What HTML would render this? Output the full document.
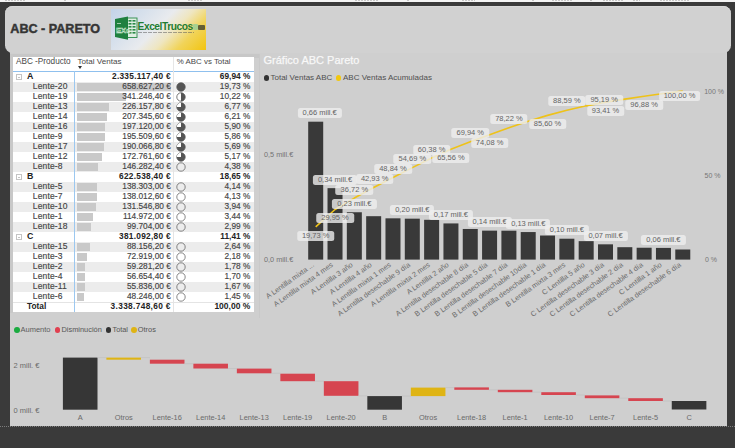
<!DOCTYPE html>
<html><head><meta charset="utf-8"><style>
*{margin:0;padding:0;box-sizing:border-box}
html,body{width:735px;height:448px;overflow:hidden;background:#3a3a3a;font-family:"Liberation Sans", sans-serif}
.a{position:absolute;white-space:nowrap}
.t{-webkit-text-stroke:0.15px currentColor}
</style></head><body>

<div class="a" style="left:0;top:0;width:735px;height:1.8px;background:#f4f4f4"></div>
<div class="a" style="left:5px;top:0;width:20px;height:1.3px;background:repeating-linear-gradient(90deg,#c6c6c6 0 2px,transparent 2px 3px)"></div>
<div class="a" style="left:64px;top:0;width:2px;height:1.3px;background:repeating-linear-gradient(90deg,#c6c6c6 0 2px,transparent 2px 3px)"></div>
<div class="a" style="left:188px;top:0;width:15px;height:1.3px;background:repeating-linear-gradient(90deg,#c6c6c6 0 2px,transparent 2px 3px)"></div>
<div class="a" style="left:355px;top:0;width:23px;height:1.3px;background:repeating-linear-gradient(90deg,#c6c6c6 0 2px,transparent 2px 3px)"></div>
<div class="a" style="left:407px;top:0;width:2px;height:1.3px;background:repeating-linear-gradient(90deg,#c6c6c6 0 2px,transparent 2px 3px)"></div>
<div class="a" style="left:462px;top:0;width:13px;height:1.3px;background:repeating-linear-gradient(90deg,#c6c6c6 0 2px,transparent 2px 3px)"></div>
<div class="a" style="left:532px;top:0;width:2px;height:1.3px;background:repeating-linear-gradient(90deg,#c6c6c6 0 2px,transparent 2px 3px)"></div>
<div class="a" style="left:552px;top:0;width:21px;height:1.3px;background:repeating-linear-gradient(90deg,#c6c6c6 0 2px,transparent 2px 3px)"></div>
<div class="a" style="left:590px;top:0;width:3px;height:1.3px;background:repeating-linear-gradient(90deg,#c6c6c6 0 2px,transparent 2px 3px)"></div>
<div class="a" style="left:603px;top:0;width:20px;height:1.3px;background:repeating-linear-gradient(90deg,#c6c6c6 0 2px,transparent 2px 3px)"></div>
<div class="a" style="left:633px;top:0;width:7px;height:1.3px;background:repeating-linear-gradient(90deg,#c6c6c6 0 2px,transparent 2px 3px)"></div>
<div class="a" style="left:660px;top:0;width:30px;height:1.3px;background:repeating-linear-gradient(90deg,#c6c6c6 0 2px,transparent 2px 3px)"></div>
<div class="a" style="left:10px;top:50px;width:716.5px;height:376px;background:#cfcfcf"></div>
<div class="a" style="left:5px;top:6.3px;width:726px;height:47.2px;background:#d1d1d1;border-radius:7.5px;box-shadow:inset 0 1px 0 #d9d9d9"></div>
<div class="a" style="left:10.3px;top:21.7px;font-size:12.6px;font-weight:bold;color:#353535;line-height:14px;-webkit-text-stroke:0.45px #353535">ABC - PARETO</div>
<div class="a" style="left:111.2px;top:9.2px;width:95px;height:41px;background:linear-gradient(135deg,#c3d3e8 0%,#d8e1ec 28%,#e9ebee 48%,#efe6c0 62%,#f1d45a 78%,#f2c410 100%)"></div>
<svg class="a" style="left:111px;top:12px" width="30" height="32" viewBox="0 0 30 32">
<rect x="16.5" y="6" width="9.5" height="19.5" fill="#dfeee2" stroke="#2a8a48" stroke-width="0.9"/>
<g fill="#2a8a48"><rect x="17.5" y="8" width="3" height="1.6"/><rect x="21.5" y="8" width="3" height="1.6"/>
<rect x="17.5" y="11" width="3" height="1.6"/><rect x="21.5" y="11" width="3" height="1.6"/>
<rect x="17.5" y="14" width="3" height="1.6"/><rect x="21.5" y="14" width="3" height="1.6"/>
<rect x="17.5" y="17" width="3" height="1.6"/><rect x="21.5" y="17" width="3" height="1.6"/>
<rect x="17.5" y="20" width="3" height="1.6"/><rect x="21.5" y="20" width="3" height="1.6"/></g>
<polygon points="4,7 17,4.5 17,27.7 4,25" fill="#1f8040"/>
<g fill="none" stroke="#bfe0c8" stroke-width="0.8"><path d="M6 11.5 L10 11.5"/><path d="M6 20 L10 20"/></g>
<text x="5" y="20.5" font-family="Liberation Sans" font-size="7.5" fill="none" stroke="#d8eedd" stroke-width="0.5" font-weight="bold">EXc</text>
</svg>
<div class="a" style="left:137.6px;top:20.6px;font-size:10.2px;line-height:12px;font-weight:bold;color:#1f7d32;letter-spacing:-0.45px">ExcelTrucos</div>
<div class="a" style="left:138px;top:32.3px;width:56px;height:1.1px;background:repeating-linear-gradient(90deg,#555 0 4px,transparent 4px 5px);opacity:.5"></div>
<div class="a" style="left:193px;top:23.5px;width:5px;height:6px;background:#a8d090;border-radius:1px"></div><div class="a" style="left:198px;top:25px;width:7px;height:5px;background:#4a4a30;border-radius:1px;opacity:.85"></div>
<div class="a" style="left:10px;top:53.5px;width:249.5px;height:4px;background:#c7c7c7"></div><div class="a" style="left:10px;top:53.5px;width:2.5px;height:259.5px;background:#c8c8c8"></div><div class="a" style="left:259px;top:53.5px;width:0.8px;height:264px;background:#c9c9c9"></div>
<div class="a" style="left:12.5px;top:57px;width:241.3px;height:255px;background:#ffffff"></div>
<div class="a" style="left:16px;top:56.8px;font-size:8.2px;color:#484848;line-height:10px">ABC -Producto</div>
<div class="a" style="left:77.5px;top:56.8px;font-size:8.1px;color:#484848;line-height:10px">Total Ventas</div>
<div class="a" style="left:78px;top:66px;width:0;height:0;border-left:2.5px solid transparent;border-right:2.5px solid transparent;border-top:3px solid #333"></div>
<div class="a" style="left:176.8px;top:56.8px;font-size:7.9px;color:#484848;line-height:10px">% ABC vs Total</div>
<div class="a" style="left:12.5px;top:70.5px;width:241.5px;height:1.2px;background:#8fc0ee"></div>
<div class="a" style="left:173px;top:56.5px;width:1px;height:255.5px;background:#e6e6e6"></div>
<div class="a" style="left:16px;top:74.3px;width:5.5px;height:5.5px;border:1px solid #c4c4c4"></div>
<div class="a" style="left:17.5px;top:76.5px;width:2.5px;height:1px;background:#c4c4c4"></div>
<div class="a" style="left:27px;top:71.3px;font-size:8.8px;font-weight:bold;color:#222;line-height:10px">A</div>
<div class="a" style="right:564.2px;top:71.3px;font-size:8.3px;letter-spacing:0.28px;font-weight:bold;color:#222;line-height:10px">2.335.117,40 €</div>
<div class="a" style="right:484.7px;top:71.3px;font-size:8.3px;font-weight:bold;color:#222;line-height:10px">69,94 %</div>
<div class="a" style="left:12.5px;top:81.8px;width:241.5px;height:10px;background:#ececec"></div>
<div class="a" style="left:77px;top:82.8px;width:93.6px;height:8px;background:#c9c9c9"></div>
<div class="a t" style="left:32.8px;top:81.3px;font-size:8.5px;letter-spacing:0.15px;color:#444;line-height:10px">Lente-20</div>
<div class="a t" style="right:564.2px;top:81.3px;font-size:8.3px;color:#444;line-height:10px">658.627,20 €</div>
<div class="a t" style="right:484.7px;top:81.3px;font-size:8.3px;color:#444;line-height:10px">19,73 %</div>
<svg class="a" style="left:175.5px;top:81.8px" width="10" height="10"><circle cx="5" cy="5" r="4.2" fill="#555" stroke="#555" stroke-width="0.8"/></svg>
<div class="a" style="left:77px;top:92.8px;width:48.5px;height:8px;background:#c9c9c9"></div>
<div class="a t" style="left:32.8px;top:91.3px;font-size:8.5px;letter-spacing:0.15px;color:#444;line-height:10px">Lente-19</div>
<div class="a t" style="right:564.2px;top:91.3px;font-size:8.3px;color:#444;line-height:10px">341.246,40 €</div>
<div class="a t" style="right:484.7px;top:91.3px;font-size:8.3px;color:#444;line-height:10px">10,22 %</div>
<svg class="a" style="left:175.5px;top:91.8px" width="10" height="10"><circle cx="5" cy="5" r="4.2" fill="#fff" stroke="#555" stroke-width="0.8"/><path d="M5 0.7999999999999998 A4.2 4.2 0 0 1 5 9.2 Z" fill="#555"/></svg>
<div class="a" style="left:12.5px;top:101.8px;width:241.5px;height:10px;background:#ececec"></div>
<div class="a" style="left:77px;top:102.8px;width:32.1px;height:8px;background:#c9c9c9"></div>
<div class="a t" style="left:32.8px;top:101.3px;font-size:8.5px;letter-spacing:0.15px;color:#444;line-height:10px">Lente-13</div>
<div class="a t" style="right:564.2px;top:101.3px;font-size:8.3px;color:#444;line-height:10px">226.157,80 €</div>
<div class="a t" style="right:484.7px;top:101.3px;font-size:8.3px;color:#444;line-height:10px">6,77 %</div>
<svg class="a" style="left:175.5px;top:101.8px" width="10" height="10"><circle cx="5" cy="5" r="4.2" fill="#555" stroke="#555" stroke-width="0.8"/><path d="M5 5 L0.7999999999999998 5 A4.2 4.2 0 0 1 5 0.7999999999999998 Z" fill="#fff"/></svg>
<div class="a" style="left:77px;top:112.8px;width:29.5px;height:8px;background:#c9c9c9"></div>
<div class="a t" style="left:32.8px;top:111.3px;font-size:8.5px;letter-spacing:0.15px;color:#444;line-height:10px">Lente-14</div>
<div class="a t" style="right:564.2px;top:111.3px;font-size:8.3px;color:#444;line-height:10px">207.345,60 €</div>
<div class="a t" style="right:484.7px;top:111.3px;font-size:8.3px;color:#444;line-height:10px">6,21 %</div>
<svg class="a" style="left:175.5px;top:111.8px" width="10" height="10"><circle cx="5" cy="5" r="4.2" fill="#555" stroke="#555" stroke-width="0.8"/><path d="M5 5 L0.7999999999999998 5 A4.2 4.2 0 0 1 5 0.7999999999999998 Z" fill="#fff"/></svg>
<div class="a" style="left:12.5px;top:121.8px;width:241.5px;height:10px;background:#ececec"></div>
<div class="a" style="left:77px;top:122.8px;width:28.0px;height:8px;background:#c9c9c9"></div>
<div class="a t" style="left:32.8px;top:121.3px;font-size:8.5px;letter-spacing:0.15px;color:#444;line-height:10px">Lente-16</div>
<div class="a t" style="right:564.2px;top:121.3px;font-size:8.3px;color:#444;line-height:10px">197.120,00 €</div>
<div class="a t" style="right:484.7px;top:121.3px;font-size:8.3px;color:#444;line-height:10px">5,90 %</div>
<svg class="a" style="left:175.5px;top:121.8px" width="10" height="10"><circle cx="5" cy="5" r="4.2" fill="#555" stroke="#555" stroke-width="0.8"/><path d="M5 5 L0.7999999999999998 5 A4.2 4.2 0 0 1 5 0.7999999999999998 Z" fill="#fff"/></svg>
<div class="a" style="left:77px;top:132.8px;width:27.8px;height:8px;background:#c9c9c9"></div>
<div class="a t" style="left:32.8px;top:131.3px;font-size:8.5px;letter-spacing:0.15px;color:#444;line-height:10px">Lente-9</div>
<div class="a t" style="right:564.2px;top:131.3px;font-size:8.3px;color:#444;line-height:10px">195.509,60 €</div>
<div class="a t" style="right:484.7px;top:131.3px;font-size:8.3px;color:#444;line-height:10px">5,86 %</div>
<svg class="a" style="left:175.5px;top:131.8px" width="10" height="10"><circle cx="5" cy="5" r="4.2" fill="#555" stroke="#555" stroke-width="0.8"/><path d="M5 5 L0.7999999999999998 5 A4.2 4.2 0 0 1 5 0.7999999999999998 Z" fill="#fff"/></svg>
<div class="a" style="left:12.5px;top:141.8px;width:241.5px;height:10px;background:#ececec"></div>
<div class="a" style="left:77px;top:142.8px;width:27.0px;height:8px;background:#c9c9c9"></div>
<div class="a t" style="left:32.8px;top:141.3px;font-size:8.5px;letter-spacing:0.15px;color:#444;line-height:10px">Lente-17</div>
<div class="a t" style="right:564.2px;top:141.3px;font-size:8.3px;color:#444;line-height:10px">190.066,80 €</div>
<div class="a t" style="right:484.7px;top:141.3px;font-size:8.3px;color:#444;line-height:10px">5,69 %</div>
<svg class="a" style="left:175.5px;top:141.8px" width="10" height="10"><circle cx="5" cy="5" r="4.2" fill="#555" stroke="#555" stroke-width="0.8"/><path d="M5 5 L0.7999999999999998 5 A4.2 4.2 0 0 1 5 0.7999999999999998 Z" fill="#fff"/></svg>
<div class="a" style="left:77px;top:152.8px;width:24.6px;height:8px;background:#c9c9c9"></div>
<div class="a t" style="left:32.8px;top:151.3px;font-size:8.5px;letter-spacing:0.15px;color:#444;line-height:10px">Lente-12</div>
<div class="a t" style="right:564.2px;top:151.3px;font-size:8.3px;color:#444;line-height:10px">172.761,60 €</div>
<div class="a t" style="right:484.7px;top:151.3px;font-size:8.3px;color:#444;line-height:10px">5,17 %</div>
<svg class="a" style="left:175.5px;top:151.8px" width="10" height="10"><circle cx="5" cy="5" r="4.2" fill="#555" stroke="#555" stroke-width="0.8"/><path d="M5 5 L0.7999999999999998 5 A4.2 4.2 0 0 1 5 0.7999999999999998 Z" fill="#fff"/></svg>
<div class="a" style="left:12.5px;top:161.8px;width:241.5px;height:10px;background:#ececec"></div>
<div class="a" style="left:77px;top:162.8px;width:20.8px;height:8px;background:#c9c9c9"></div>
<div class="a t" style="left:32.8px;top:161.3px;font-size:8.5px;letter-spacing:0.15px;color:#444;line-height:10px">Lente-8</div>
<div class="a t" style="right:564.2px;top:161.3px;font-size:8.3px;color:#444;line-height:10px">146.282,40 €</div>
<div class="a t" style="right:484.7px;top:161.3px;font-size:8.3px;color:#444;line-height:10px">4,38 %</div>
<svg class="a" style="left:175.5px;top:161.8px" width="10" height="10"><circle cx="5" cy="5" r="4.2" fill="none" stroke="#555" stroke-width="0.7"/></svg>
<div class="a" style="left:16px;top:174.3px;width:5.5px;height:5.5px;border:1px solid #c4c4c4"></div>
<div class="a" style="left:17.5px;top:176.5px;width:2.5px;height:1px;background:#c4c4c4"></div>
<div class="a" style="left:27px;top:171.3px;font-size:8.8px;font-weight:bold;color:#222;line-height:10px">B</div>
<div class="a" style="right:564.2px;top:171.3px;font-size:8.3px;letter-spacing:0.28px;font-weight:bold;color:#222;line-height:10px">622.538,40 €</div>
<div class="a" style="right:484.7px;top:171.3px;font-size:8.3px;font-weight:bold;color:#222;line-height:10px">18,65 %</div>
<div class="a" style="left:12.5px;top:181.8px;width:241.5px;height:10px;background:#ececec"></div>
<div class="a" style="left:77px;top:182.8px;width:19.7px;height:8px;background:#c9c9c9"></div>
<div class="a t" style="left:32.8px;top:181.3px;font-size:8.5px;letter-spacing:0.15px;color:#444;line-height:10px">Lente-5</div>
<div class="a t" style="right:564.2px;top:181.3px;font-size:8.3px;color:#444;line-height:10px">138.303,00 €</div>
<div class="a t" style="right:484.7px;top:181.3px;font-size:8.3px;color:#444;line-height:10px">4,14 %</div>
<svg class="a" style="left:175.5px;top:181.8px" width="10" height="10"><circle cx="5" cy="5" r="4.2" fill="none" stroke="#555" stroke-width="0.7"/></svg>
<div class="a" style="left:77px;top:192.8px;width:19.6px;height:8px;background:#c9c9c9"></div>
<div class="a t" style="left:32.8px;top:191.3px;font-size:8.5px;letter-spacing:0.15px;color:#444;line-height:10px">Lente-7</div>
<div class="a t" style="right:564.2px;top:191.3px;font-size:8.3px;color:#444;line-height:10px">138.012,60 €</div>
<div class="a t" style="right:484.7px;top:191.3px;font-size:8.3px;color:#444;line-height:10px">4,13 %</div>
<svg class="a" style="left:175.5px;top:191.8px" width="10" height="10"><circle cx="5" cy="5" r="4.2" fill="none" stroke="#555" stroke-width="0.7"/></svg>
<div class="a" style="left:12.5px;top:201.8px;width:241.5px;height:10px;background:#ececec"></div>
<div class="a" style="left:77px;top:202.8px;width:18.7px;height:8px;background:#c9c9c9"></div>
<div class="a t" style="left:32.8px;top:201.3px;font-size:8.5px;letter-spacing:0.15px;color:#444;line-height:10px">Lente-10</div>
<div class="a t" style="right:564.2px;top:201.3px;font-size:8.3px;color:#444;line-height:10px">131.546,80 €</div>
<div class="a t" style="right:484.7px;top:201.3px;font-size:8.3px;color:#444;line-height:10px">3,94 %</div>
<svg class="a" style="left:175.5px;top:201.8px" width="10" height="10"><circle cx="5" cy="5" r="4.2" fill="none" stroke="#555" stroke-width="0.7"/></svg>
<div class="a" style="left:77px;top:212.8px;width:16.3px;height:8px;background:#c9c9c9"></div>
<div class="a t" style="left:32.8px;top:211.3px;font-size:8.5px;letter-spacing:0.15px;color:#444;line-height:10px">Lente-1</div>
<div class="a t" style="right:564.2px;top:211.3px;font-size:8.3px;color:#444;line-height:10px">114.972,00 €</div>
<div class="a t" style="right:484.7px;top:211.3px;font-size:8.3px;color:#444;line-height:10px">3,44 %</div>
<svg class="a" style="left:175.5px;top:211.8px" width="10" height="10"><circle cx="5" cy="5" r="4.2" fill="none" stroke="#555" stroke-width="0.7"/></svg>
<div class="a" style="left:12.5px;top:221.8px;width:241.5px;height:10px;background:#ececec"></div>
<div class="a" style="left:77px;top:222.8px;width:14.2px;height:8px;background:#c9c9c9"></div>
<div class="a t" style="left:32.8px;top:221.3px;font-size:8.5px;letter-spacing:0.15px;color:#444;line-height:10px">Lente-18</div>
<div class="a t" style="right:564.2px;top:221.3px;font-size:8.3px;color:#444;line-height:10px">99.704,00 €</div>
<div class="a t" style="right:484.7px;top:221.3px;font-size:8.3px;color:#444;line-height:10px">2,99 %</div>
<svg class="a" style="left:175.5px;top:221.8px" width="10" height="10"><circle cx="5" cy="5" r="4.2" fill="none" stroke="#555" stroke-width="0.7"/></svg>
<div class="a" style="left:16px;top:234.3px;width:5.5px;height:5.5px;border:1px solid #c4c4c4"></div>
<div class="a" style="left:17.5px;top:236.5px;width:2.5px;height:1px;background:#c4c4c4"></div>
<div class="a" style="left:27px;top:231.3px;font-size:8.8px;font-weight:bold;color:#222;line-height:10px">C</div>
<div class="a" style="right:564.2px;top:231.3px;font-size:8.3px;letter-spacing:0.28px;font-weight:bold;color:#222;line-height:10px">381.092,80 €</div>
<div class="a" style="right:484.7px;top:231.3px;font-size:8.3px;font-weight:bold;color:#222;line-height:10px">11,41 %</div>
<div class="a" style="left:12.5px;top:241.8px;width:241.5px;height:10px;background:#ececec"></div>
<div class="a" style="left:77px;top:242.8px;width:12.5px;height:8px;background:#c9c9c9"></div>
<div class="a t" style="left:32.8px;top:241.3px;font-size:8.5px;letter-spacing:0.15px;color:#444;line-height:10px">Lente-15</div>
<div class="a t" style="right:564.2px;top:241.3px;font-size:8.3px;color:#444;line-height:10px">88.156,20 €</div>
<div class="a t" style="right:484.7px;top:241.3px;font-size:8.3px;color:#444;line-height:10px">2,64 %</div>
<svg class="a" style="left:175.5px;top:241.8px" width="10" height="10"><circle cx="5" cy="5" r="4.2" fill="none" stroke="#555" stroke-width="0.7"/></svg>
<div class="a" style="left:77px;top:252.8px;width:10.4px;height:8px;background:#c9c9c9"></div>
<div class="a t" style="left:32.8px;top:251.3px;font-size:8.5px;letter-spacing:0.15px;color:#444;line-height:10px">Lente-3</div>
<div class="a t" style="right:564.2px;top:251.3px;font-size:8.3px;color:#444;line-height:10px">72.919,00 €</div>
<div class="a t" style="right:484.7px;top:251.3px;font-size:8.3px;color:#444;line-height:10px">2,18 %</div>
<svg class="a" style="left:175.5px;top:251.8px" width="10" height="10"><circle cx="5" cy="5" r="4.2" fill="none" stroke="#555" stroke-width="0.7"/></svg>
<div class="a" style="left:12.5px;top:261.8px;width:241.5px;height:10px;background:#ececec"></div>
<div class="a" style="left:77px;top:262.8px;width:8.4px;height:8px;background:#c9c9c9"></div>
<div class="a t" style="left:32.8px;top:261.3px;font-size:8.5px;letter-spacing:0.15px;color:#444;line-height:10px">Lente-2</div>
<div class="a t" style="right:564.2px;top:261.3px;font-size:8.3px;color:#444;line-height:10px">59.281,20 €</div>
<div class="a t" style="right:484.7px;top:261.3px;font-size:8.3px;color:#444;line-height:10px">1,78 %</div>
<svg class="a" style="left:175.5px;top:261.8px" width="10" height="10"><circle cx="5" cy="5" r="4.2" fill="none" stroke="#555" stroke-width="0.7"/></svg>
<div class="a" style="left:77px;top:272.8px;width:8.1px;height:8px;background:#c9c9c9"></div>
<div class="a t" style="left:32.8px;top:271.3px;font-size:8.5px;letter-spacing:0.15px;color:#444;line-height:10px">Lente-4</div>
<div class="a t" style="right:564.2px;top:271.3px;font-size:8.3px;color:#444;line-height:10px">56.654,40 €</div>
<div class="a t" style="right:484.7px;top:271.3px;font-size:8.3px;color:#444;line-height:10px">1,70 %</div>
<svg class="a" style="left:175.5px;top:271.8px" width="10" height="10"><circle cx="5" cy="5" r="4.2" fill="none" stroke="#555" stroke-width="0.7"/></svg>
<div class="a" style="left:12.5px;top:281.8px;width:241.5px;height:10px;background:#ececec"></div>
<div class="a" style="left:77px;top:282.8px;width:7.9px;height:8px;background:#c9c9c9"></div>
<div class="a t" style="left:32.8px;top:281.3px;font-size:8.5px;letter-spacing:0.15px;color:#444;line-height:10px">Lente-11</div>
<div class="a t" style="right:564.2px;top:281.3px;font-size:8.3px;color:#444;line-height:10px">55.836,00 €</div>
<div class="a t" style="right:484.7px;top:281.3px;font-size:8.3px;color:#444;line-height:10px">1,67 %</div>
<svg class="a" style="left:175.5px;top:281.8px" width="10" height="10"><circle cx="5" cy="5" r="4.2" fill="none" stroke="#555" stroke-width="0.7"/></svg>
<div class="a" style="left:77px;top:292.8px;width:6.9px;height:8px;background:#c9c9c9"></div>
<div class="a t" style="left:32.8px;top:291.3px;font-size:8.5px;letter-spacing:0.15px;color:#444;line-height:10px">Lente-6</div>
<div class="a t" style="right:564.2px;top:291.3px;font-size:8.3px;color:#444;line-height:10px">48.246,00 €</div>
<div class="a t" style="right:484.7px;top:291.3px;font-size:8.3px;color:#444;line-height:10px">1,45 %</div>
<svg class="a" style="left:175.5px;top:291.8px" width="10" height="10"><circle cx="5" cy="5" r="4.2" fill="none" stroke="#555" stroke-width="0.7"/></svg>
<div class="a" style="left:12.5px;top:301.8px;width:241.5px;height:1px;background:#e4e4e4"></div>
<div class="a" style="left:27px;top:301.3px;font-size:8.3px;font-weight:bold;color:#222;line-height:10px">Total</div>
<div class="a" style="right:564.2px;top:301.3px;font-size:8.3px;letter-spacing:0.35px;font-weight:bold;color:#222;line-height:10px">3.338.748,60 €</div>
<div class="a" style="right:484.7px;top:301.3px;font-size:8.5px;font-weight:bold;color:#222;line-height:10px">100,00 %</div>
<div class="a" style="left:173px;top:71.5px;width:0.8px;height:240px;background:#e4e4e4"></div>
<div class="a" style="left:0;top:425.6px;width:735px;height:1px;border-top:1px dotted #7c7c7c"></div>
<div class="a" style="left:74px;top:71px;width:1px;height:241px;background:#9cc8f0"></div>
<div class="a" style="left:263.5px;top:52.5px;font-size:11px;color:#f8f8f8;line-height:14px;-webkit-text-stroke:0.25px #f8f8f8">Gráfico ABC Pareto</div>
<div class="a" style="left:263.7px;top:75.3px;width:5.4px;height:5.4px;border-radius:50%;background:#333"></div>
<div class="a" style="left:270.5px;top:73px;font-size:8px;color:#505050;line-height:10px">Total Ventas ABC</div>
<div class="a" style="left:336px;top:75.3px;width:5.4px;height:5.4px;border-radius:50%;background:#f2c80f"></div>
<div class="a" style="left:343px;top:73px;font-size:8px;color:#505050;line-height:10px">ABC Ventas Acumuladas</div>
<div class="a" style="left:264px;top:150px;font-size:7.3px;color:#737373;line-height:10px">0,5 mill.€</div>
<div class="a" style="left:264px;top:254.7px;font-size:7.3px;color:#737373;line-height:10px">0,0 mill.€</div>
<div class="a" style="left:704.2px;top:86.8px;font-size:7px;color:#767676;line-height:10px">100 %</div>
<div class="a" style="left:704.5px;top:171.3px;font-size:7px;color:#767676;line-height:10px">50 %</div>
<div class="a" style="left:705px;top:254.7px;font-size:7px;color:#767676;line-height:10px">0 %</div>
<svg class="a" style="left:0;top:0" width="735" height="448"><rect x="308.20" y="121.70" width="15" height="137.90" fill="#393939"/><rect x="327.52" y="188.15" width="15" height="71.45" fill="#393939"/><rect x="346.84" y="212.25" width="15" height="47.35" fill="#393939"/><rect x="366.16" y="216.19" width="15" height="43.41" fill="#393939"/><rect x="385.48" y="218.33" width="15" height="41.27" fill="#393939"/><rect x="404.80" y="218.67" width="15" height="40.93" fill="#393939"/><rect x="424.12" y="219.80" width="15" height="39.80" fill="#393939"/><rect x="443.44" y="223.43" width="15" height="36.17" fill="#393939"/><rect x="462.76" y="228.97" width="15" height="30.63" fill="#393939"/><rect x="482.08" y="230.64" width="15" height="28.96" fill="#393939"/><rect x="501.40" y="230.70" width="15" height="28.90" fill="#393939"/><rect x="520.72" y="232.06" width="15" height="27.54" fill="#393939"/><rect x="540.04" y="235.53" width="15" height="24.07" fill="#393939"/><rect x="559.36" y="238.72" width="15" height="20.88" fill="#393939"/><rect x="578.68" y="241.14" width="15" height="18.46" fill="#393939"/><rect x="598.00" y="244.33" width="15" height="15.27" fill="#393939"/><rect x="617.32" y="247.19" width="15" height="12.41" fill="#393939"/><rect x="636.64" y="247.74" width="15" height="11.86" fill="#393939"/><rect x="655.96" y="247.91" width="15" height="11.69" fill="#393939"/><rect x="675.28" y="249.50" width="15" height="10.10" fill="#393939"/><polyline points="315.70,226.82 335.02,209.52 354.34,198.07 373.66,187.56 392.98,177.56 412.30,167.66 431.62,158.04 450.94,149.27 470.26,141.86 489.58,134.86 508.90,127.85 528.22,121.19 547.54,115.36 566.86,110.31 586.18,105.84 605.50,102.15 624.82,99.14 644.14,96.28 663.46,93.45 682.78,91.00" fill="none" stroke="#eec219" stroke-width="1.6" stroke-linejoin="round"/></svg>
<div class="a" style="left:319.7px;top:108.40000000000002px;height:10px;transform:translateX(-50%);background:rgba(238,238,238,0.8);border-radius:2.5px;padding:0 5px;font-size:7.5px;line-height:10px;color:#646464">0,66 mill.€</div>
<div class="a" style="left:335.02px;top:174.85157126823793px;height:10px;transform:translateX(-50%);background:rgba(238,238,238,0.8);border-radius:2.5px;padding:0 5px;font-size:7.5px;line-height:10px;color:#646464">0,34 mill.€</div>
<div class="a" style="left:354.34px;top:198.94823466142913px;height:10px;transform:translateX(-50%);background:rgba(238,238,238,0.8);border-radius:2.5px;padding:0 5px;font-size:7.5px;line-height:10px;color:#646464">0,23 mill.€</div>
<div class="a" style="left:412.29999999999995px;top:205.36519827908717px;height:10px;transform:translateX(-50%);background:rgba(238,238,238,0.8);border-radius:2.5px;padding:0 5px;font-size:7.5px;line-height:10px;color:#646464">0,20 mill.€</div>
<div class="a" style="left:450.94px;top:210.1280583613917px;height:10px;transform:translateX(-50%);background:rgba(238,238,238,0.8);border-radius:2.5px;padding:0 5px;font-size:7.5px;line-height:10px;color:#646464">0,17 mill.€</div>
<div class="a" style="left:489.58px;top:217.3428240740741px;height:10px;transform:translateX(-50%);background:rgba(238,238,238,0.8);border-radius:2.5px;padding:0 5px;font-size:7.5px;line-height:10px;color:#646464">0,14 mill.€</div>
<div class="a" style="left:528.22px;top:218.75740273101385px;height:10px;transform:translateX(-50%);background:rgba(238,238,238,0.8);border-radius:2.5px;padding:0 5px;font-size:7.5px;line-height:10px;color:#646464">0,13 mill.€</div>
<div class="a" style="left:566.86px;top:225.42448559670783px;height:10px;transform:translateX(-50%);background:rgba(238,238,238,0.8);border-radius:2.5px;padding:0 5px;font-size:7.5px;line-height:10px;color:#646464">0,10 mill.€</div>
<div class="a" style="left:605.5px;top:231.03259212495325px;height:10px;transform:translateX(-50%);background:rgba(238,238,238,0.8);border-radius:2.5px;padding:0 5px;font-size:7.5px;line-height:10px;color:#646464">0,07 mill.€</div>
<div class="a" style="left:663.46px;top:234.60934343434343px;height:10px;transform:translateX(-50%);background:rgba(238,238,238,0.8);border-radius:2.5px;padding:0 5px;font-size:7.5px;line-height:10px;color:#646464">0,06 mill.€</div>
<div class="a" style="left:315.7px;top:230.81683999999998px;height:10px;transform:translateX(-50%);background:rgba(238,238,238,0.8);border-radius:2.5px;padding:0 5px;font-size:7.5px;line-height:10px;color:#646464">19,73 %</div>
<div class="a" style="left:335.02px;top:212.9246px;height:10px;transform:translateX(-50%);background:rgba(238,238,238,0.8);border-radius:2.5px;padding:0 5px;font-size:7.5px;line-height:10px;color:#646464">29,95 %</div>
<div class="a" style="left:354.34px;top:185.06976px;height:10px;transform:translateX(-50%);background:rgba(238,238,238,0.8);border-radius:2.5px;padding:0 5px;font-size:7.5px;line-height:10px;color:#646464">36,72 %</div>
<div class="a" style="left:374.65999999999997px;top:174.06243999999998px;height:10px;transform:translateX(-50%);background:rgba(238,238,238,0.8);border-radius:2.5px;padding:0 5px;font-size:7.5px;line-height:10px;color:#646464">42,93 %</div>
<div class="a" style="left:392.98px;top:163.56271999999998px;height:10px;transform:translateX(-50%);background:rgba(238,238,238,0.8);border-radius:2.5px;padding:0 5px;font-size:7.5px;line-height:10px;color:#646464">48,84 %</div>
<div class="a" style="left:412.29999999999995px;top:154.16451999999998px;height:10px;transform:translateX(-50%);background:rgba(238,238,238,0.8);border-radius:2.5px;padding:0 5px;font-size:7.5px;line-height:10px;color:#646464">54,69 %</div>
<div class="a" style="left:431.62px;top:145.03704px;height:10px;transform:translateX(-50%);background:rgba(238,238,238,0.8);border-radius:2.5px;padding:0 5px;font-size:7.5px;line-height:10px;color:#646464">60,38 %</div>
<div class="a" style="left:450.94px;top:152.77247999999997px;height:10px;transform:translateX(-50%);background:rgba(238,238,238,0.8);border-radius:2.5px;padding:0 5px;font-size:7.5px;line-height:10px;color:#646464">65,56 %</div>
<div class="a" style="left:470.26px;top:128.36151999999998px;height:10px;transform:translateX(-50%);background:rgba(238,238,238,0.8);border-radius:2.5px;padding:0 5px;font-size:7.5px;line-height:10px;color:#646464">69,94 %</div>
<div class="a" style="left:489.58px;top:138.35664px;height:10px;transform:translateX(-50%);background:rgba(238,238,238,0.8);border-radius:2.5px;padding:0 5px;font-size:7.5px;line-height:10px;color:#646464">74,08 %</div>
<div class="a" style="left:508.9px;top:113.85175999999998px;height:10px;transform:translateX(-50%);background:rgba(238,238,238,0.8);border-radius:2.5px;padding:0 5px;font-size:7.5px;line-height:10px;color:#646464">78,22 %</div>
<div class="a" style="left:547.54px;top:118.8648px;height:10px;transform:translateX(-50%);background:rgba(238,238,238,0.8);border-radius:2.5px;padding:0 5px;font-size:7.5px;line-height:10px;color:#646464">85,60 %</div>
<div class="a" style="left:566.86px;top:96.30571999999998px;height:10px;transform:translateX(-50%);background:rgba(238,238,238,0.8);border-radius:2.5px;padding:0 5px;font-size:7.5px;line-height:10px;color:#646464">88,59 %</div>
<div class="a" style="left:605.5px;top:106.45028px;height:10px;transform:translateX(-50%);background:rgba(238,238,238,0.8);border-radius:2.5px;padding:0 5px;font-size:7.5px;line-height:10px;color:#646464">93,41 %</div>
<div class="a" style="left:604.2px;top:94.9px;height:10px;transform:translateX(-50%);background:rgba(238,238,238,0.8);border-radius:2.5px;padding:0 5px;font-size:7.5px;line-height:10px;color:#646464">95,19 %</div>
<div class="a" style="left:644.14px;top:100.47904000000001px;height:10px;transform:translateX(-50%);background:rgba(238,238,238,0.8);border-radius:2.5px;padding:0 5px;font-size:7.5px;line-height:10px;color:#646464">96,88 %</div>
<div class="a" style="left:679.5px;top:90.5px;height:10px;transform:translateX(-50%);background:rgba(238,238,238,0.8);border-radius:2.5px;padding:0 5px;font-size:7.5px;line-height:10px;color:#646464">100,00 %</div>
<div class="a" style="right:423.90000000000003px;top:261px;font-size:7.3px;line-height:8px;color:#6a6a6a;transform-origin:100% 0;transform:rotate(-35.5deg)">A Lentilla mixta ...</div>
<div class="a" style="right:404.58000000000004px;top:261px;font-size:7.3px;line-height:8px;color:#6a6a6a;transform-origin:100% 0;transform:rotate(-35.5deg)">A Lentilla mixta 4 mes</div>
<div class="a" style="right:385.26000000000005px;top:261px;font-size:7.3px;line-height:8px;color:#6a6a6a;transform-origin:100% 0;transform:rotate(-35.5deg)">A Lentilla 3 año</div>
<div class="a" style="right:365.94000000000005px;top:261px;font-size:7.3px;line-height:8px;color:#6a6a6a;transform-origin:100% 0;transform:rotate(-35.5deg)">A Lentilla 4 año</div>
<div class="a" style="right:346.62px;top:261px;font-size:7.3px;line-height:8px;color:#6a6a6a;transform-origin:100% 0;transform:rotate(-35.5deg)">A Lentilla mixta 1 mes</div>
<div class="a" style="right:327.30000000000007px;top:261px;font-size:7.3px;line-height:8px;color:#6a6a6a;transform-origin:100% 0;transform:rotate(-35.5deg)">A Lentilla desechable 9 día</div>
<div class="a" style="right:307.98px;top:261px;font-size:7.3px;line-height:8px;color:#6a6a6a;transform-origin:100% 0;transform:rotate(-35.5deg)">A Lentilla mixta 2 mes</div>
<div class="a" style="right:288.66px;top:261px;font-size:7.3px;line-height:8px;color:#6a6a6a;transform-origin:100% 0;transform:rotate(-35.5deg)">A Lentilla 2 año</div>
<div class="a" style="right:269.34000000000003px;top:261px;font-size:7.3px;line-height:8px;color:#6a6a6a;transform-origin:100% 0;transform:rotate(-35.5deg)">A Lentilla desechable 8 día</div>
<div class="a" style="right:250.02px;top:261px;font-size:7.3px;line-height:8px;color:#6a6a6a;transform-origin:100% 0;transform:rotate(-35.5deg)">B Lentilla desechable 5 día</div>
<div class="a" style="right:230.70000000000002px;top:261px;font-size:7.3px;line-height:8px;color:#6a6a6a;transform-origin:100% 0;transform:rotate(-35.5deg)">B Lentilla desechable 7 día</div>
<div class="a" style="right:211.37999999999997px;top:261px;font-size:7.3px;line-height:8px;color:#6a6a6a;transform-origin:100% 0;transform:rotate(-35.5deg)">B Lentilla desechable 10día</div>
<div class="a" style="right:192.06000000000003px;top:261px;font-size:7.3px;line-height:8px;color:#6a6a6a;transform-origin:100% 0;transform:rotate(-35.5deg)">B Lentilla desechable 1 día</div>
<div class="a" style="right:172.73999999999998px;top:261px;font-size:7.3px;line-height:8px;color:#6a6a6a;transform-origin:100% 0;transform:rotate(-35.5deg)">B Lentilla mixta 3 mes</div>
<div class="a" style="right:153.41999999999993px;top:261px;font-size:7.3px;line-height:8px;color:#6a6a6a;transform-origin:100% 0;transform:rotate(-35.5deg)">C Lentilla 5 año</div>
<div class="a" style="right:134.1px;top:261px;font-size:7.3px;line-height:8px;color:#6a6a6a;transform-origin:100% 0;transform:rotate(-35.5deg)">C Lentilla desechable 3 día</div>
<div class="a" style="right:114.78000000000006px;top:261px;font-size:7.3px;line-height:8px;color:#6a6a6a;transform-origin:100% 0;transform:rotate(-35.5deg)">C Lentilla desechable 2 día</div>
<div class="a" style="right:95.46000000000001px;top:261px;font-size:7.3px;line-height:8px;color:#6a6a6a;transform-origin:100% 0;transform:rotate(-35.5deg)">C Lentilla desechable 4 día</div>
<div class="a" style="right:76.13999999999996px;top:261px;font-size:7.3px;line-height:8px;color:#6a6a6a;transform-origin:100% 0;transform:rotate(-35.5deg)">C Lentilla 1 año</div>
<div class="a" style="right:56.82000000000003px;top:261px;font-size:7.3px;line-height:8px;color:#6a6a6a;transform-origin:100% 0;transform:rotate(-35.5deg)">C Lentilla desechable 6 día</div>
<div class="a" style="left:13.999999999999998px;top:326.8px;width:5.8px;height:5.8px;border-radius:50%;background:#1aab40"></div>
<div class="a" style="left:54.6px;top:326.8px;width:5.8px;height:5.8px;border-radius:50%;background:#e04050"></div>
<div class="a" style="left:105.6px;top:326.8px;width:5.8px;height:5.8px;border-radius:50%;background:#333"></div>
<div class="a" style="left:131.29999999999998px;top:326.8px;width:5.8px;height:5.8px;border-radius:50%;background:#dfb414"></div>
<div class="a" style="left:20.5px;top:324.8px;font-size:7.5px;color:#5c5c5c;line-height:9px">Aumento</div>
<div class="a" style="left:61.5px;top:324.8px;font-size:7.4px;color:#555;line-height:9px">Disminución</div>
<div class="a" style="left:112.5px;top:324.8px;font-size:7.3px;color:#555;line-height:9px">Total</div>
<div class="a" style="left:137.8px;top:324.8px;font-size:7.4px;color:#555;line-height:9px">Otros</div>
<div class="a" style="left:13.6px;top:360.5px;font-size:7.5px;color:#6a6a6a;line-height:9px">2 mill. €</div>
<div class="a" style="left:13.6px;top:405.5px;font-size:7.5px;color:#6a6a6a;line-height:9px">0 mill. €</div>
<div class="a" style="left:80.2px;top:412.5px;transform:translateX(-50%);font-size:7.4px;color:#6a6a6a;line-height:9px">A</div>
<div class="a" style="left:123.69px;top:412.5px;transform:translateX(-50%);font-size:7.4px;color:#6a6a6a;line-height:9px">Otros</div>
<div class="a" style="left:167.18px;top:412.5px;transform:translateX(-50%);font-size:7.4px;color:#6a6a6a;line-height:9px">Lente-16</div>
<div class="a" style="left:210.67000000000002px;top:412.5px;transform:translateX(-50%);font-size:7.4px;color:#6a6a6a;line-height:9px">Lente-14</div>
<div class="a" style="left:254.16000000000003px;top:412.5px;transform:translateX(-50%);font-size:7.4px;color:#6a6a6a;line-height:9px">Lente-13</div>
<div class="a" style="left:297.65000000000003px;top:412.5px;transform:translateX(-50%);font-size:7.4px;color:#6a6a6a;line-height:9px">Lente-19</div>
<div class="a" style="left:341.14px;top:412.5px;transform:translateX(-50%);font-size:7.4px;color:#6a6a6a;line-height:9px">Lente-20</div>
<div class="a" style="left:384.63px;top:412.5px;transform:translateX(-50%);font-size:7.4px;color:#6a6a6a;line-height:9px">B</div>
<div class="a" style="left:428.12px;top:412.5px;transform:translateX(-50%);font-size:7.4px;color:#6a6a6a;line-height:9px">Otros</div>
<div class="a" style="left:471.61px;top:412.5px;transform:translateX(-50%);font-size:7.4px;color:#6a6a6a;line-height:9px">Lente-18</div>
<div class="a" style="left:515.1px;top:412.5px;transform:translateX(-50%);font-size:7.4px;color:#6a6a6a;line-height:9px">Lente-1</div>
<div class="a" style="left:558.59px;top:412.5px;transform:translateX(-50%);font-size:7.4px;color:#6a6a6a;line-height:9px">Lente-10</div>
<div class="a" style="left:602.0799999999999px;top:412.5px;transform:translateX(-50%);font-size:7.4px;color:#6a6a6a;line-height:9px">Lente-7</div>
<div class="a" style="left:645.5699999999999px;top:412.5px;transform:translateX(-50%);font-size:7.4px;color:#6a6a6a;line-height:9px">Lente-5</div>
<div class="a" style="left:689.06px;top:412.5px;transform:translateX(-50%);font-size:7.4px;color:#6a6a6a;line-height:9px">C</div>
<svg class="a" style="left:0;top:0" width="735" height="448"><rect x="62.90" y="357.6" width="34.6" height="52.10" fill="#363636"/><line x1="97.50" y1="357.6" x2="106.39" y2="357.6" stroke="#bdbdbd" stroke-width="0.6"/><rect x="106.39" y="357.6" width="34.6" height="2.10" fill="#dfb414"/><line x1="140.99" y1="357.6" x2="149.88" y2="357.6" stroke="#bdbdbd" stroke-width="0.6"/><rect x="149.88" y="359.7" width="34.6" height="4.00" fill="#d64550"/><line x1="184.48" y1="363.7" x2="193.37" y2="363.7" stroke="#bdbdbd" stroke-width="0.6"/><rect x="193.37" y="363.7" width="34.6" height="4.80" fill="#d64550"/><line x1="227.97" y1="368.5" x2="236.86" y2="368.5" stroke="#bdbdbd" stroke-width="0.6"/><rect x="236.86" y="368.6" width="34.6" height="4.70" fill="#d64550"/><line x1="271.46" y1="373.3" x2="280.35" y2="373.3" stroke="#bdbdbd" stroke-width="0.6"/><rect x="280.35" y="373.7" width="34.6" height="7.50" fill="#d64550"/><line x1="314.95" y1="381.2" x2="323.84" y2="381.2" stroke="#bdbdbd" stroke-width="0.6"/><rect x="323.84" y="381.2" width="34.6" height="14.60" fill="#d64550"/><line x1="358.44" y1="395.8" x2="367.33" y2="395.8" stroke="#bdbdbd" stroke-width="0.6"/><rect x="367.33" y="396.1" width="34.6" height="13.60" fill="#363636"/><line x1="401.93" y1="396.1" x2="410.82" y2="396.1" stroke="#bdbdbd" stroke-width="0.6"/><rect x="410.82" y="387.6" width="34.6" height="8.50" fill="#dfb414"/><line x1="445.42" y1="387.6" x2="454.31" y2="387.6" stroke="#bdbdbd" stroke-width="0.6"/><rect x="454.31" y="387.4" width="34.6" height="2.40" fill="#d64550"/><line x1="488.91" y1="389.8" x2="497.80" y2="389.8" stroke="#bdbdbd" stroke-width="0.6"/><rect x="497.80" y="389.8" width="34.6" height="2.40" fill="#d64550"/><line x1="532.40" y1="392.2" x2="541.29" y2="392.2" stroke="#bdbdbd" stroke-width="0.6"/><rect x="541.29" y="392.2" width="34.6" height="2.80" fill="#d64550"/><line x1="575.89" y1="395" x2="584.78" y2="395" stroke="#bdbdbd" stroke-width="0.6"/><rect x="584.78" y="395.4" width="34.6" height="2.80" fill="#d64550"/><line x1="619.38" y1="398.2" x2="628.27" y2="398.2" stroke="#bdbdbd" stroke-width="0.6"/><rect x="628.27" y="398.2" width="34.6" height="2.80" fill="#d64550"/><line x1="662.87" y1="401" x2="671.76" y2="401" stroke="#bdbdbd" stroke-width="0.6"/><rect x="671.76" y="401" width="34.6" height="8.50" fill="#363636"/></svg>
</body></html>
